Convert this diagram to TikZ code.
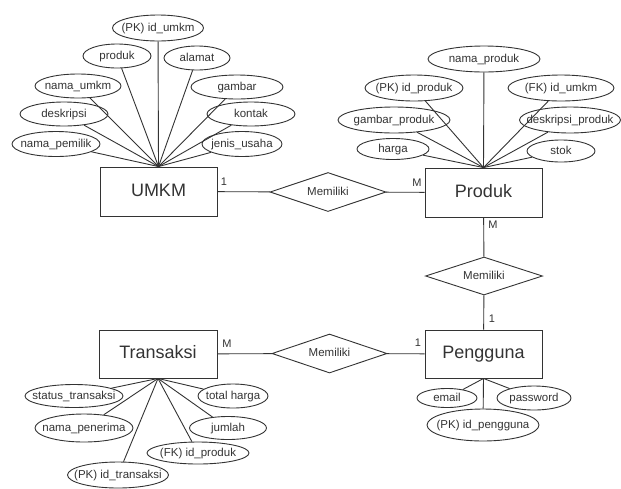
\documentclass[tikz,border=0pt]{standalone}
\usepackage{fontspec}
\setmainfont{Liberation Sans}
\usepackage{tikz}
\usetikzlibrary{shapes.geometric}

\definecolor{erline}{gray}{0.2}
% text sits in the middle of a shape of fixed size
\newcommand{\attrtext}[1]{\makebox[0pt]{\raisebox{-.5ex}[0pt][0pt]{#1}}}

\begin{document}
\begin{tikzpicture}[x=1pt,y=-1pt,line width=0.9pt,color=erline,text=erline]
	\useasboundingbox (0,0) rectangle (621,488);

		\begin{scope}[every node/.style={rectangle,draw,inner sep=0pt,font=\fontsize{18}{20}\selectfont}]
			\node[minimum width=117,minimum height=49] (umkm) at (158.5,191.5) {\attrtext{UMKM}};
			\node[minimum width=117,minimum height=49] (produk) at (483.5,192.5) {\attrtext{Produk}};
			\node[minimum width=118,minimum height=48] (transaksi) at (158,354) {\attrtext{Transaksi}};
			\node[minimum width=117,minimum height=48] (pengguna) at (483.5,354) {\attrtext{Pengguna}};
		\end{scope}

		\begin{scope}[every node/.style={diamond,draw,inner sep=0pt,font=\fontsize{11.5}{13}\selectfont}]
			\node[minimum width=116,minimum height=39] (rel1) at (328,192) {\attrtext{Memiliki}};
			\node[minimum width=117,minimum height=38] (rel2) at (484,276) {\attrtext{Memiliki}};
			\node[minimum width=115,minimum height=39] (rel3) at (329.5,353.5) {\attrtext{Memiliki}};
		\end{scope}

		\begin{scope}[every node/.style={ellipse,draw,inner sep=0pt,font=\fontsize{11.5}{13}\selectfont}]
			% UMKM
			\node[minimum width=91,minimum height=26] (pkumkm) at (158,28) {\attrtext{(PK) id\_umkm}};
			\node[minimum width=68,minimum height=24] (uproduk) at (117,56) {\attrtext{produk}};
			\node[minimum width=66,minimum height=24] (alamat) at (197,58) {\attrtext{alamat}};
			\node[minimum width=86,minimum height=24] (namaumkm) at (78,86) {\attrtext{nama\_umkm}};
			\node[minimum width=92,minimum height=24] (gambar) at (237,87) {\attrtext{gambar}};
			\node[minimum width=88,minimum height=24] (deskripsi) at (64,114) {\attrtext{deskripsi}};
			\node[minimum width=88,minimum height=24] (kontak) at (251,114) {\attrtext{kontak}};
			\node[minimum width=88,minimum height=25] (namapemilik) at (56,144) {\attrtext{nama\_pemilik}};
			\node[minimum width=80,minimum height=25] (jenisusaha) at (242,144) {\attrtext{jenis\_usaha}};
			% Produk
			\node[minimum width=112,minimum height=26] (namaproduk) at (484,59) {\attrtext{nama\_produk}};
			\node[minimum width=98,minimum height=26] (pkproduk) at (414,88) {\attrtext{(PK) id\_produk}};
			\node[minimum width=106,minimum height=26] (fkumkm) at (561,88) {\attrtext{(FK) id\_umkm}};
			\node[minimum width=112,minimum height=26] (gambarproduk) at (394,120) {\attrtext{gambar\_produk}};
			\node[minimum width=101,minimum height=26] (deskripsiproduk) at (570,120) {\attrtext{deskripsi\_produk}};
			\node[minimum width=72,minimum height=21] (harga) at (393,149) {\attrtext{harga}};
			\node[minimum width=68,minimum height=22] (stok) at (561,151) {\attrtext{stok}};
			% Pengguna
			\node[minimum width=60,minimum height=19] (email) at (447,398) {\attrtext{email}};
			\node[minimum width=74,minimum height=24] (password) at (534,398) {\attrtext{password}};
			\node[minimum width=112,minimum height=32] (pkpengguna) at (483,425) {\attrtext{(PK) id\_pengguna}};
			% Transaksi
			\node[minimum width=98,minimum height=23] (statustransaksi) at (74,396) {\attrtext{status\_transaksi}};
			\node[minimum width=70,minimum height=24] (totalharga) at (233,396) {\attrtext{total harga}};
			\node[minimum width=98,minimum height=28] (namapenerima) at (84,428) {\attrtext{nama\_penerima}};
			\node[minimum width=77,minimum height=23] (jumlah) at (228,428) {\attrtext{jumlah}};
			\node[minimum width=102,minimum height=22] (fkproduk) at (198,453) {\attrtext{(FK) id\_produk}};
			\node[minimum width=101,minimum height=26] (pktransaksi) at (118,475) {\attrtext{(PK) id\_transaksi}};
		\end{scope}

	\begin{scope}[every node/.style={inner sep=0pt,font=\fontsize{11}{12}\selectfont},
              every edge/.style={draw=erline,line width=0.9pt}]

	\path (umkm) edge (rel1);
	\path (rel1) edge (produk);
	\path (produk) edge (rel2);
	\path (rel2) edge (pengguna);
	\path (pengguna) edge (rel3);
	\path (rel3) edge (transaksi);

	\node (c1) at (224,182) {1};
	\node (c2) at (417,183) {M};
	\node (c3) at (493,225) {M};
	\node (c4) at (492,319) {1};
	\node (c5) at (418,343) {1};
	\node (c6) at (227,344) {M};

	\foreach \a in {pkumkm,uproduk,alamat,namaumkm,gambar,deskripsi,kontak,namapemilik,jenisusaha}
		\path (umkm.north) edge (\a);
	\foreach \a in {namaproduk,pkproduk,fkumkm,gambarproduk,deskripsiproduk,harga,stok}
		\path (produk.north) edge (\a);
	\foreach \a in {email,password,pkpengguna}
		\path (pengguna.south) edge (\a);
	\foreach \a in {statustransaksi,totalharga,namapenerima,jumlah,fkproduk,pktransaksi}
		\path (transaksi.south) edge (\a);

\end{scope}
\end{tikzpicture}
\end{document}
